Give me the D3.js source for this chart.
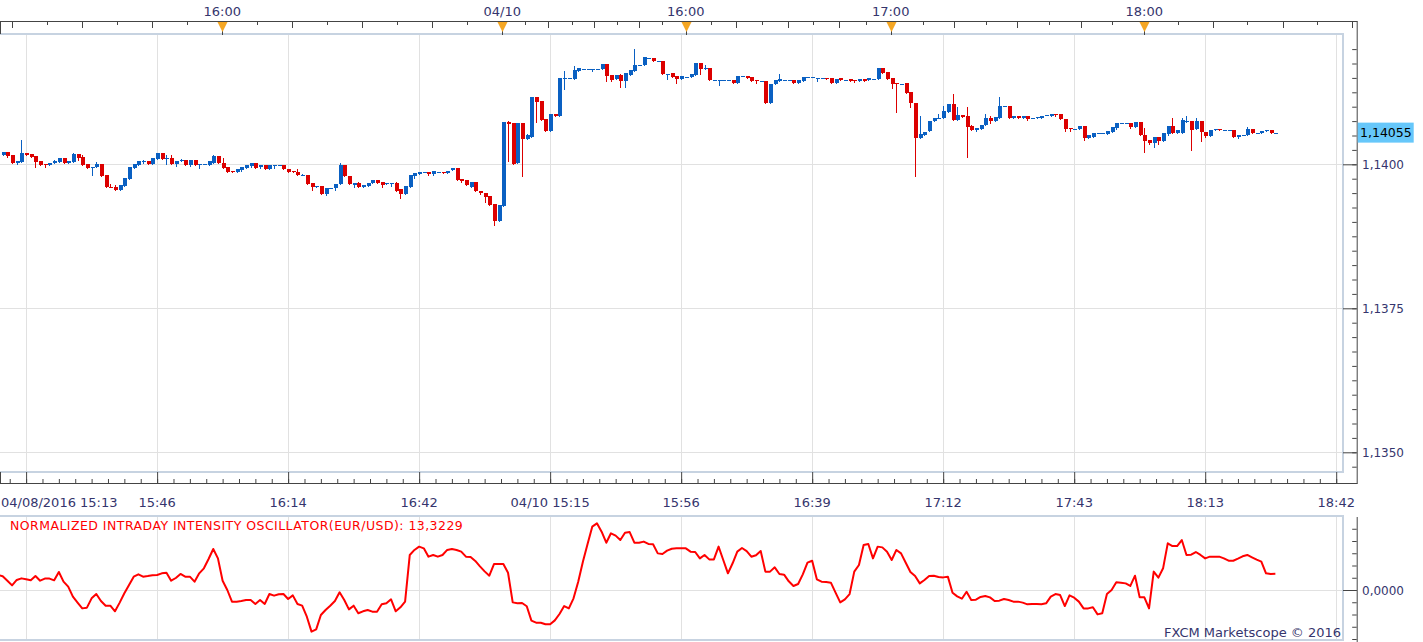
<!DOCTYPE html>
<html>
<head>
<meta charset="utf-8">
<script src="https://cdn.jsdelivr.net/npm/d3@7"></script>
<style>
  body { margin: 0; background: #fff; }
  text { font-family: "DejaVu Sans", Verdana, sans-serif; }
</style>
</head>
<body>
<div id="chart"></div>
<script>
// EUR/USD one-minute bars, one row per bar: [open, high, low, close]
var bars = [
  [1.14016,1.14021,1.14016,1.14021],[1.14021,1.14021,1.14013,1.14015],[1.14016,1.14016,1.14002,1.14002],[1.14002,1.14005,1.14001,1.14005],
  [1.14004,1.14042,1.14004,1.14020],[1.14020,1.14020,1.14017,1.14017],[1.14018,1.14018,1.14012,1.14013],[1.14014,1.14014,1.13996,1.14004],
  [1.14006,1.14006,1.13999,1.13999],[1.14001,1.14001,1.13996,1.13998],[1.13998,1.14003,1.13998,1.14003],[1.14002,1.14007,1.14002,1.14006],
  [1.14004,1.14011,1.14004,1.14011],[1.14011,1.14011,1.14003,1.14003],[1.14003,1.14006,1.14003,1.14006],[1.14004,1.14019,1.14004,1.14018],
  [1.14018,1.14018,1.14007,1.14011],[1.14013,1.14016,1.13999,1.13999],[1.14001,1.14001,1.13993,1.13994],[1.13995,1.13995,1.13982,1.13995],
  [1.13995,1.14004,1.13995,1.14001],[1.14001,1.14001,1.13980,1.13980],[1.13982,1.13982,1.13960,1.13960],[1.13961,1.13966,1.13960,1.13960],
  [1.13961,1.13964,1.13956,1.13956],[1.13956,1.13964,1.13956,1.13964],[1.13963,1.13976,1.13963,1.13976],[1.13975,1.13995,1.13975,1.13995],
  [1.13994,1.14001,1.13993,1.14001],[1.13999,1.14005,1.13999,1.14005],[1.14005,1.14007,1.14003,1.14005],[1.14006,1.14006,1.14001,1.14001],
  [1.14001,1.14011,1.14001,1.14011],[1.14010,1.14020,1.14010,1.14020],[1.14020,1.14020,1.14010,1.14010],[1.14011,1.14016,1.14001,1.14011],
  [1.14011,1.14016,1.14001,1.14001],[1.14001,1.14006,1.13997,1.14006],[1.14005,1.14010,1.14005,1.14008],[1.14007,1.14007,1.13999,1.13999],
  [1.13998,1.14007,1.13997,1.14007],[1.14007,1.14007,1.13998,1.13998],[1.13998,1.14001,1.13994,1.14001],[1.14001,1.14001,1.14001,1.14001],
  [1.13999,1.14006,1.13999,1.14006],[1.14003,1.14017,1.14003,1.14015],[1.14015,1.14015,1.14002,1.14002],[1.14002,1.14011,1.13994,1.13994],
  [1.13995,1.13995,1.13987,1.13987],[1.13988,1.13988,1.13986,1.13986],[1.13986,1.13992,1.13986,1.13992],[1.13990,1.13996,1.13988,1.13996],
  [1.13994,1.13999,1.13994,1.13999],[1.13997,1.14002,1.13996,1.14002],[1.14002,1.14002,1.13994,1.13994],[1.13995,1.13998,1.13993,1.13998],
  [1.13998,1.13998,1.13991,1.13991],[1.13991,1.13999,1.13991,1.13999],[1.13999,1.13999,1.13993,1.13999],[1.13999,1.13999,1.13999,1.13999],
  [1.13999,1.13999,1.13991,1.13991],[1.13992,1.13992,1.13986,1.13987],[1.13988,1.13988,1.13986,1.13986],[1.13987,1.13992,1.13981,1.13981],
  [1.13982,1.13984,1.13982,1.13982],[1.13982,1.13982,1.13965,1.13965],[1.13967,1.13967,1.13956,1.13960],[1.13960,1.13963,1.13960,1.13963],
  [1.13963,1.13963,1.13948,1.13948],[1.13948,1.13959,1.13946,1.13959],[1.13958,1.13959,1.13958,1.13959],[1.13958,1.13966,1.13956,1.13966],
  [1.13965,1.14003,1.13965,1.13998],[1.13998,1.13998,1.13979,1.13979],[1.13980,1.13980,1.13965,1.13965],[1.13964,1.13968,1.13961,1.13968],
  [1.13968,1.13970,1.13960,1.13960],[1.13960,1.13964,1.13960,1.13964],[1.13963,1.13968,1.13963,1.13968],[1.13967,1.13972,1.13967,1.13972],
  [1.13973,1.13973,1.13968,1.13968],[1.13969,1.13969,1.13961,1.13964],[1.13965,1.13968,1.13965,1.13968],[1.13965,1.13968,1.13962,1.13968],
  [1.13968,1.13970,1.13954,1.13954],[1.13957,1.13957,1.13942,1.13948],[1.13949,1.13963,1.13949,1.13963],[1.13961,1.13982,1.13961,1.13982],
  [1.13979,1.13985,1.13977,1.13985],[1.13984,1.13987,1.13984,1.13987],[1.13986,1.13986,1.13986,1.13986],[1.13987,1.13987,1.13982,1.13983],
  [1.13983,1.13988,1.13982,1.13988],[1.13987,1.13987,1.13987,1.13987],[1.13987,1.13987,1.13985,1.13985],[1.13985,1.13988,1.13985,1.13988],
  [1.13990,1.13994,1.13990,1.13994],[1.13994,1.13994,1.13973,1.13973],[1.13975,1.13975,1.13969,1.13971],[1.13972,1.13972,1.13964,1.13964],
  [1.13961,1.13969,1.13961,1.13969],[1.13969,1.13969,1.13953,1.13953],[1.13954,1.13954,1.13948,1.13950],[1.13951,1.13951,1.13935,1.13944],
  [1.13945,1.13945,1.13930,1.13930],[1.13931,1.13931,1.13895,1.13901],[1.13901,1.13930,1.13901,1.13930],[1.13928,1.14073,1.13928,1.14073],
  [1.14073,1.14076,1.14006,1.14070],[1.14072,1.14072,1.14000,1.14000],[1.14002,1.14072,1.14002,1.14072],[1.14072,1.14072,1.13980,1.14044],
  [1.14044,1.14052,1.14044,1.14050],[1.14047,1.14116,1.14047,1.14116],[1.14116,1.14116,1.14073,1.14108],[1.14110,1.14110,1.14077,1.14077],
  [1.14078,1.14078,1.14058,1.14058],[1.14058,1.14087,1.14058,1.14087],[1.14087,1.14087,1.14084,1.14084],[1.14084,1.14149,1.14084,1.14149],
  [1.14149,1.14162,1.14131,1.14149],[1.14149,1.14149,1.14149,1.14149],[1.14148,1.14170,1.14148,1.14164],[1.14162,1.14167,1.14162,1.14167],
  [1.14166,1.14166,1.14166,1.14166],[1.14166,1.14166,1.14166,1.14166],[1.14166,1.14166,1.14162,1.14166],[1.14166,1.14166,1.14166,1.14166],
  [1.14165,1.14174,1.14165,1.14174],[1.14174,1.14174,1.14144,1.14154],[1.14155,1.14155,1.14144,1.14147],[1.14148,1.14155,1.14148,1.14155],
  [1.14155,1.14157,1.14134,1.14144],[1.14144,1.14159,1.14134,1.14159],[1.14155,1.14163,1.14155,1.14163],[1.14162,1.14200,1.14162,1.14173],
  [1.14173,1.14173,1.14173,1.14173],[1.14172,1.14186,1.14172,1.14186],[1.14185,1.14185,1.14185,1.14185],[1.14185,1.14185,1.14179,1.14179],
  [1.14180,1.14180,1.14180,1.14180],[1.14180,1.14180,1.14157,1.14157],[1.14157,1.14157,1.14148,1.14157],[1.14158,1.14158,1.14152,1.14152],
  [1.14153,1.14153,1.14141,1.14148],[1.14148,1.14153,1.14148,1.14153],[1.14152,1.14152,1.14152,1.14152],[1.14151,1.14156,1.14151,1.14156],
  [1.14155,1.14175,1.14155,1.14175],[1.14175,1.14175,1.14157,1.14166],[1.14166,1.14172,1.14166,1.14168],[1.14168,1.14168,1.14146,1.14146],
  [1.14147,1.14147,1.14147,1.14147],[1.14147,1.14147,1.14138,1.14147],[1.14147,1.14147,1.14147,1.14147],[1.14147,1.14147,1.14147,1.14147],
  [1.14147,1.14147,1.14141,1.14141],[1.14141,1.14154,1.14141,1.14154],[1.14154,1.14154,1.14154,1.14154],[1.14154,1.14154,1.14150,1.14150],
  [1.14151,1.14151,1.14145,1.14145],[1.14146,1.14146,1.14142,1.14145],[1.14145,1.14145,1.14145,1.14145],[1.14145,1.14145,1.14106,1.14106],
  [1.14106,1.14140,1.14106,1.14140],[1.14140,1.14146,1.14140,1.14146],[1.14145,1.14156,1.14145,1.14148],[1.14147,1.14147,1.14147,1.14147],
  [1.14147,1.14147,1.14147,1.14147],[1.14147,1.14147,1.14141,1.14141],[1.14141,1.14146,1.14141,1.14146],[1.14145,1.14151,1.14145,1.14151],
  [1.14151,1.14151,1.14151,1.14151],[1.14151,1.14151,1.14151,1.14151],[1.14150,1.14150,1.14145,1.14150],[1.14149,1.14149,1.14149,1.14149],
  [1.14150,1.14150,1.14148,1.14148],[1.14149,1.14149,1.14142,1.14142],[1.14142,1.14148,1.14142,1.14148],[1.14149,1.14149,1.14146,1.14146],
  [1.14147,1.14147,1.14147,1.14147],[1.14148,1.14148,1.14145,1.14145],[1.14147,1.14147,1.14143,1.14145],[1.14145,1.14148,1.14145,1.14148],
  [1.14148,1.14148,1.14145,1.14145],[1.14146,1.14149,1.14146,1.14149],[1.14148,1.14148,1.14148,1.14148],[1.14148,1.14168,1.14148,1.14168],
  [1.14168,1.14168,1.14159,1.14159],[1.14160,1.14160,1.14148,1.14148],[1.14150,1.14150,1.14133,1.14140],[1.14141,1.14141,1.14091,1.14140],
  [1.14140,1.14140,1.14140,1.14140],[1.14141,1.14141,1.14124,1.14124],[1.14125,1.14125,1.14099,1.14106],[1.14106,1.14106,1.13980,1.14046],
  [1.14046,1.14084,1.14046,1.14052],[1.14050,1.14056,1.14050,1.14056],[1.14057,1.14076,1.14057,1.14076],[1.14076,1.14080,1.14076,1.14080],
  [1.14081,1.14087,1.14081,1.14081],[1.14081,1.14102,1.14081,1.14092],[1.14091,1.14104,1.14091,1.14104],[1.14104,1.14122,1.14077,1.14077],
  [1.14077,1.14099,1.14077,1.14085],[1.14085,1.14085,1.14082,1.14082],[1.14084,1.14099,1.14012,1.14065],[1.14066,1.14069,1.14060,1.14060],
  [1.14059,1.14063,1.14058,1.14063],[1.14062,1.14069,1.14062,1.14069],[1.14069,1.14087,1.14069,1.14081],[1.14081,1.14083,1.14072,1.14075],
  [1.14076,1.14082,1.14076,1.14082],[1.14080,1.14116,1.14080,1.14101],[1.14101,1.14101,1.14101,1.14101],[1.14101,1.14101,1.14081,1.14081],
  [1.14080,1.14084,1.14080,1.14084],[1.14084,1.14084,1.14080,1.14080],[1.14080,1.14084,1.14080,1.14084],[1.14084,1.14084,1.14077,1.14079],
  [1.14081,1.14081,1.14081,1.14081],[1.14080,1.14082,1.14080,1.14082],[1.14081,1.14084,1.14081,1.14084],[1.14085,1.14085,1.14085,1.14085],
  [1.14084,1.14088,1.14084,1.14088],[1.14088,1.14088,1.14083,1.14085],[1.14087,1.14087,1.14078,1.14078],[1.14078,1.14078,1.14058,1.14061],
  [1.14063,1.14063,1.14057,1.14061],[1.14062,1.14062,1.14062,1.14062],[1.14062,1.14066,1.14062,1.14066],[1.14066,1.14066,1.14042,1.14046],
  [1.14046,1.14050,1.14046,1.14050],[1.14048,1.14054,1.14048,1.14054],[1.14054,1.14054,1.14054,1.14054],[1.14054,1.14054,1.14054,1.14054],
  [1.14053,1.14058,1.14053,1.14058],[1.14056,1.14065,1.14056,1.14065],[1.14063,1.14071,1.14062,1.14071],[1.14071,1.14071,1.14071,1.14071],
  [1.14071,1.14071,1.14071,1.14071],[1.14071,1.14071,1.14063,1.14065],[1.14065,1.14073,1.14065,1.14073],[1.14073,1.14073,1.14050,1.14050],
  [1.14050,1.14063,1.14021,1.14040],[1.14042,1.14042,1.14035,1.14037],[1.14037,1.14047,1.14030,1.14047],[1.14048,1.14048,1.14036,1.14040],
  [1.14041,1.14055,1.14041,1.14055],[1.14052,1.14066,1.14051,1.14066],[1.14066,1.14081,1.14055,1.14055],[1.14055,1.14059,1.14055,1.14059],
  [1.14055,1.14080,1.14055,1.14077],[1.14076,1.14083,1.14073,1.14076],[1.14076,1.14076,1.14025,1.14060],[1.14061,1.14080,1.14061,1.14075],
  [1.14075,1.14075,1.14041,1.14056],[1.14056,1.14056,1.14048,1.14049],[1.14049,1.14059,1.14049,1.14059],[1.14059,1.14061,1.14059,1.14061],
  [1.14061,1.14061,1.14059,1.14059],[1.14059,1.14059,1.14059,1.14059],[1.14059,1.14059,1.14059,1.14059],[1.14059,1.14059,1.14048,1.14048],
  [1.14047,1.14050,1.14046,1.14050],[1.14050,1.14050,1.14050,1.14050],[1.14050,1.14065,1.14050,1.14062],[1.14061,1.14061,1.14055,1.14055],
  [1.14055,1.14055,1.14055,1.14055],[1.14055,1.14057,1.14055,1.14057],[1.14057,1.14059,1.14057,1.14059],[1.14059,1.14059,1.14055,1.14055],
  [1.14055,1.14055,1.14055,1.14055]
];
var firstBar = -5;          // bar number of bars[0]; bar 0 is 04/08/2016 15:13

// Normalized Intraday Intensity oscillator, one value per bar, starting one bar earlier
var oscValues = [
  12.2, 11.2, 7.6, 3.8, 8.2, 9.5, 8.7, 7.9, 11.4, 7.6, 9.3,
  9.3, 7.9, 14.7, 6.8, 2.7, -5.4, -10.3, -15.0, -14.4, -6.8,
  -3.3, -9.0, -12.8, -12.8, -17.4, -10.3, -2.7, 4.1, 10.9, 12.8,
  10.9, 11.4, 12.0, 12.2, 13.6, 14.1, 7.6, 9.8, 13.1, 10.9,
  10.9, 6.8, 13.6, 17.7, 25.3, 33.5, 25.8, 7.6, 0, -9.5,
  -9.5, -9.0, -8.2, -8.2, -11.4, -8.2, -11.4, -3.3, -4.6, -3.5,
  -3.3, -7.3, -4.4, -11.4, -12.8, -21.8, -34.0, -32.1, -20.4, -16.3,
  -12.8, -9.0, -1.9, -8.2, -15.8, -12.8, -19.0, -17.4, -16.3, -17.7,
  -17.7, -11.7, -10.9, -7.6, -17.4, -14.1, -9.5, 28.6, 32.7, 35.4,
  34.0, 27.2, 28.6, 27.2, 28.6, 32.7, 33.5, 32.7, 31.3, 27.2,
  26.9, 23.7, 19.3, 15.2, 11.7, 21.2, 21.2, 21.2, 14.1, -10.1,
  -10.9, -10.6, -13.3, -25.0, -26.7, -26.7, -28.0, -28.0, -24.8, -19.6,
  -13.1, -15.0, -6.8, 6.8, 23.1, 37.6, 51.7, 54.4, 47.6, 38.6,
  46.3, 44.4, 40.8, 46.8, 47.3, 38.6, 38.6, 39.5, 37.6, 37.3,
  29.9, 29.4, 32.1, 33.7, 34.0, 34.0, 34.0, 31.3, 31.0, 25.8,
  28.6, 25.0, 25.0, 35.4, 24.5, 13.6, 21.8, 31.3, 34.3, 31.8,
  27.2, 28.3, 31.8, 15.0, 15.0, 18.5, 13.1, 12.5, 7.1, 3.3,
  4.9, 12.8, 22.3, 23.9, 8.7, 6.8, 6.5, 6.0, -2.2, -10.1,
  -7.6, -3.3, 15.0, 20.4, 36.7, 37.6, 25.8, 35.4, 34.8, 31.3,
  24.5, 32.7, 29.9, 22.3, 14.7, 11.4, 5.4, 8.2, 11.4, 11.7,
  10.6, 10.3, 10.9, -2.2, -5.2, -7.1, -1.4, -8.2, -7.9, -5.7,
  -4.9, -6.0, -9.0, -8.7, -7.3, -8.2, -9.5, -9.5, -10.3, -11.7,
  -11.4, -11.4, -11.7, -10.9, -5.4, -3.3, -4.1, -13.1, -4.4, -6.3,
  -9.5, -15.0, -15.0, -14.1, -19.9, -19.0, -3.3, 0, 6.3, 6.0,
  5.4, 3.3, 11.7, -6.0, -6.0, -15.0, 15.0, 10.1, 17.7, 38.1,
  35.9, 35.9, 40.8, 28.6, 28.8, 31.0, 28.6, 25.8, 27.2, 27.2,
  27.2, 25.8, 23.9, 23.9, 25.6, 27.5, 28.6, 26.7, 24.8, 23.1,
  13.6, 13.1, 13.3229
];
var oscTitle = "NORMALIZED INTRADAY INTENSITY OSCILLATOR(EUR/USD): 13,3229";

// bottom time axis: labels every 28 bars
var bottomLabelBars = [0, 28, 56, 84, 112, 140, 168, 196, 224, 252, 280];
var bottomLabels = ["04/08/2016 15:13", "15:46", "16:14", "16:42", "04/10 15:15", "15:56",
                    "16:39", "17:12", "17:43", "18:13", "18:42"];

// top clock axis: tick every 7.5 minutes (in bar units), long/short alternate
var topTickBars = [-2.95, 4.53, 12.01, 19.49, 26.97, 34.45, 41.93, 49.41, 56.89, 64.37, 71.85,
  79.33, 86.81, 94.29, 101.77, 106.63, 111.61, 116.61, 121.44, 126.22, 131.05, 135.97, 140.97,
  146.31, 151.72, 157.34, 162.90, 168.24, 173.80, 179.44, 184.78, 191.62, 198.38, 205.09, 211.84,
  218.68, 225.39, 232.14, 238.98, 246.25, 253.73, 261.00, 268.56, 275.83, 283.31];
var topMarkerBars = [41.93, 101.77, 140.97, 184.78, 238.98];
var topMarkerLabels = ["16:00", "04/10", "16:00", "17:00", "18:00"];

var priceLabels = [1.1350, 1.1375, 1.1400];
var lastPrice = 1.14055;
var oscLabels = [0];

var W = 1423, H = 642;
var plotRight = 1343, axisX = 1356.7;
var mainTop = 34, mainBottom = 472, bottomAxisY = 483;
var oscTop = 516, oscBottom = 640;
var topAxisY = 21;
var labelColor = "#35356d", axisColor = "#444", gridColor = "#e1e1e1", frameColor = "#c7d3e1";
var upColor = "#0a60c2", downColor = "#dc0000";

var svg = d3.select("#chart").append("svg")
    .attr("width", W)
    .attr("height", H);

// scales
var x = d3.scaleLinear().domain([0, 280]).range([26.1, 1336.2]);
var y = d3.scaleLinear().domain([1.1350, 1.1400]).range([452.3, 164.3]);
var yOsc = d3.scaleLinear().domain([-40, 50]).range([639, 528.75]);

function fmt(v, d) { return v.toFixed(d).replace(".", ","); }

// clip paths
svg.append("clipPath").attr("id", "clipMain")
  .append("rect").attr("x", 0).attr("y", mainTop).attr("width", plotRight).attr("height", mainBottom - mainTop);
svg.append("clipPath").attr("id", "clipOsc")
  .append("rect").attr("x", 0).attr("y", oscTop).attr("width", plotRight).attr("height", oscBottom - oscTop);

// grid lines
var grid = svg.append("g").attr("stroke", gridColor).attr("stroke-width", 1).attr("shape-rendering", "crispEdges");
[[mainTop, mainBottom], [oscTop, oscBottom]].forEach(function (p) {
  grid.selectAll(null).data(bottomLabelBars).enter().append("line")
    .attr("x1", function (d) { return Math.round(x(d)) + 0.5; })
    .attr("x2", function (d) { return Math.round(x(d)) + 0.5; })
    .attr("y1", p[0]).attr("y2", p[1]);
});
grid.selectAll(null).data(priceLabels).enter().append("line")
  .attr("x1", 0).attr("x2", plotRight)
  .attr("y1", function (d) { return Math.round(y(d)) + 0.5; })
  .attr("y2", function (d) { return Math.round(y(d)) + 0.5; });
grid.selectAll(null).data(oscLabels).enter().append("line")
  .attr("x1", 0).attr("x2", plotRight)
  .attr("y1", function (d) { return Math.round(yOsc(d)) + 0.5; })
  .attr("y2", function (d) { return Math.round(yOsc(d)) + 0.5; });

// panel frames
[[mainTop, mainBottom], [oscTop, oscBottom]].forEach(function (p) {
  svg.append("path")
    .attr("d", "M-2," + p[0] + "H" + plotRight + "V" + p[1] + "H-2")
    .attr("fill", "none").attr("stroke", frameColor).attr("stroke-width", 2);
});

// candles
var candles = svg.append("g").attr("clip-path", "url(#clipMain)").attr("shape-rendering", "crispEdges");
var bar = candles.selectAll("g").data(bars).enter().append("g")
  .attr("fill", function (d) { return d[3] >= d[0] ? upColor : downColor; })
  .attr("stroke", function (d) { return d[3] >= d[0] ? upColor : downColor; });
bar.append("line")
  .attr("x1", function (d, i) { return Math.round(x(i + firstBar)) + 0.5; })
  .attr("x2", function (d, i) { return Math.round(x(i + firstBar)) + 0.5; })
  .attr("y1", function (d) { return Math.round(y(d[1])); })
  .attr("y2", function (d) { return Math.round(y(d[2])) + 1; });
bar.append("rect")
  .attr("stroke", "none")
  .attr("x", function (d, i) { return Math.round(x(i + firstBar)) - 1.5; })
  .attr("width", 4)
  .attr("y", function (d) { return Math.round(y(Math.max(d[0], d[3]))); })
  .attr("height", function (d) {
    return Math.max(1, Math.round(y(Math.min(d[0], d[3]))) - Math.round(y(Math.max(d[0], d[3]))));
  });

// oscillator line
var line = d3.line()
  .x(function (d, i) { return x(i + firstBar - 1); })
  .y(function (d) { return yOsc(d); });
svg.append("path")
  .datum(oscValues)
  .attr("clip-path", "url(#clipOsc)")
  .attr("d", line)
  .attr("fill", "none")
  .attr("stroke", "#ff0000")
  .attr("stroke-width", 2)
  .attr("stroke-linejoin", "round");

svg.append("text")
  .attr("x", 10).attr("y", 530)
  .attr("font-size", 12.5)
  .attr("letter-spacing", 0.45)
  .attr("fill", "#ff0000")
  .text(oscTitle);

// bottom axis: ticks pointing up, labels below
var minorBars = d3.range(-3.5, 281, 3.5);
var bottomAxis = svg.append("g")
  .attr("transform", "translate(0," + bottomAxisY + ")")
  .attr("color", axisColor)
  .call(d3.axisTop(x).tickValues(minorBars).tickSize(4).tickSizeOuter(0).tickFormat(""));
bottomAxis.select(".domain").remove();
svg.append("g")
  .attr("transform", "translate(0," + bottomAxisY + ")")
  .attr("color", axisColor)
  .call(d3.axisTop(x).tickValues(bottomLabelBars).tickSize(bottomAxisY - mainBottom).tickSizeOuter(0).tickFormat(""))
  .select(".domain").remove();
svg.append("line")
  .attr("x1", 0).attr("x2", axisX + 0.5)
  .attr("y1", bottomAxisY + 0.5).attr("y2", bottomAxisY + 0.5)
  .attr("stroke", axisColor);
svg.append("line")
  .attr("x1", 0.5).attr("x2", 0.5)
  .attr("y1", mainBottom).attr("y2", bottomAxisY)
  .attr("stroke", axisColor);

svg.append("g").selectAll("text").data(bottomLabelBars).enter().append("text")
  .attr("x", function (d) { return x(d); })
  .attr("y", 506.5)
  .attr("text-anchor", "middle")
  .attr("font-size", 13)
  .attr("fill", labelColor)
  .text(function (d, i) { return bottomLabels[i]; })
  .each(function () {
    // keep the first label inside the chart
    var w = this.getComputedTextLength();
    var cx = +d3.select(this).attr("x");
    if (cx - w / 2 < 1) d3.select(this).attr("x", 1 + w / 2);
  });

// top axis: ticks pointing down, markers and labels above
var topAxis = svg.append("g").attr("color", axisColor);
topAxis.append("line")
  .attr("x1", 0).attr("x2", axisX + 0.5)
  .attr("y1", topAxisY + 0.5).attr("y2", topAxisY + 0.5)
  .attr("stroke", axisColor);
topAxis.append("line")
  .attr("x1", 0.5).attr("x2", 0.5)
  .attr("y1", topAxisY).attr("y2", mainTop)
  .attr("stroke", axisColor);
topAxis.selectAll(".tt").data(topTickBars.filter(function (d) { return topMarkerBars.indexOf(d) < 0; }))
  .enter().append("line")
  .attr("x1", function (d) { return Math.round(x(d)) + 0.5; })
  .attr("x2", function (d) { return Math.round(x(d)) + 0.5; })
  .attr("y1", topAxisY)
  .attr("y2", function (d) { return topAxisY + (topTickBars.indexOf(d) % 2 === 0 ? 7 : 4); })
  .attr("stroke", axisColor);

topAxis.selectAll(".mk").data(topMarkerBars).enter().append("line")
  .attr("x1", function (d) { return Math.round(x(d)) + 0.5; })
  .attr("x2", function (d) { return Math.round(x(d)) + 0.5; })
  .attr("y1", topAxisY + 8).attr("y2", mainTop + 1)
  .attr("stroke", axisColor);
topAxis.selectAll("path.mk").data(topMarkerBars).enter().append("path")
  .attr("d", function (d) {
    var cx = Math.round(x(d)) + 0.5;
    return "M" + (cx - 5) + "," + (topAxisY + 1) + "L" + (cx + 5) + "," + (topAxisY + 1) +
      "L" + cx + "," + (topAxisY + 11) + "Z";
  })
  .attr("fill", "#f5a623");
topAxis.selectAll("text").data(topMarkerBars).enter().append("text")
  .attr("x", function (d) { return x(d); })
  .attr("y", 15.5)
  .attr("text-anchor", "middle")
  .attr("font-size", 13)
  .attr("fill", labelColor)
  .text(function (d, i) { return topMarkerLabels[i]; });

// right price axis
var priceMinor = d3.range(0, 30).map(function (i) { return Math.round((1.13475 + i * 0.00025) * 1e5) / 1e5; });
svg.append("g")
  .attr("transform", "translate(" + axisX + ",0)")
  .attr("color", axisColor)
  .call(d3.axisLeft(y).tickValues(priceMinor).tickSize(4.5).tickSizeOuter(0).tickFormat(""))
  .select(".domain").remove();
svg.append("g")
  .attr("transform", "translate(" + axisX + ",0)")
  .attr("color", axisColor)
  .call(d3.axisLeft(y).tickValues(priceLabels).tickSize(axisX - plotRight).tickSizeOuter(0).tickFormat(""))
  .select(".domain").remove();
svg.append("line")
  .attr("x1", axisX + 0.5).attr("x2", axisX + 0.5)
  .attr("y1", topAxisY).attr("y2", bottomAxisY + 1)
  .attr("stroke", axisColor);
svg.append("g").selectAll("text").data(priceLabels).enter().append("text")
  .attr("x", 1362)
  .attr("y", function (d) { return y(d) + 4.5; })
  .attr("font-size", 12)
  .attr("fill", labelColor)
  .text(function (d) { return fmt(d, 4); });

// last price tag
svg.append("rect")
  .attr("x", axisX + 1).attr("y", y(lastPrice) - 10)
  .attr("width", 56).attr("height", 20)
  .attr("fill", "#66c7fa");
svg.append("text")
  .attr("x", 1360).attr("y", y(lastPrice) + 4.5)
  .attr("font-size", 12.5)
  .attr("fill", "#000")
  .text(fmt(lastPrice, 5));

// right oscillator axis
var oscTicks = d3.range(-40, 51, 10);
svg.append("g")
  .attr("transform", "translate(" + axisX + ",0)")
  .attr("color", axisColor)
  .call(d3.axisLeft(yOsc).tickValues(oscTicks).tickSize(4.5).tickSizeOuter(0).tickFormat(""))
  .select(".domain").remove();
svg.append("g")
  .attr("transform", "translate(" + axisX + ",0)")
  .attr("color", axisColor)
  .call(d3.axisLeft(yOsc).tickValues(oscLabels).tickSize(axisX - plotRight).tickSizeOuter(0).tickFormat(""))
  .select(".domain").remove();
svg.append("line")
  .attr("x1", axisX + 0.5).attr("x2", axisX + 0.5)
  .attr("y1", oscTop + 1).attr("y2", H)
  .attr("stroke", axisColor);
svg.append("g").selectAll("text").data(oscLabels).enter().append("text")
  .attr("x", 1362)
  .attr("y", function (d) { return yOsc(d) + 4.5; })
  .attr("font-size", 12)
  .attr("fill", labelColor)
  .text(function (d) { return fmt(d, 4); });

// watermark
svg.append("text")
  .attr("x", 1341).attr("y", 637)
  .attr("text-anchor", "end")
  .attr("font-size", 13)
  .attr("fill", labelColor)
  .text("FXCM Marketscope \u00a9 2016");
</script>
</body>
</html>
